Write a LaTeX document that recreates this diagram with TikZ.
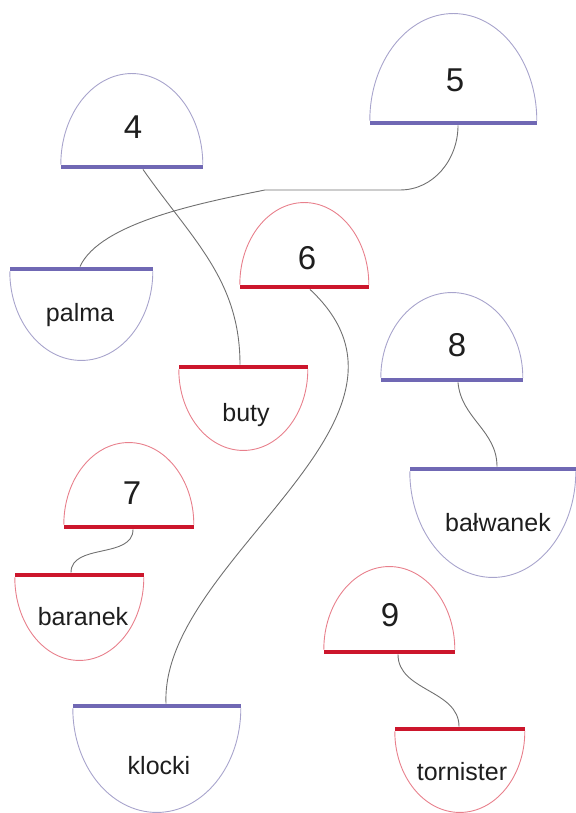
\documentclass[tikz,border=0pt]{standalone}
\usepackage{fontspec}
\setmainfont{Liberation Sans}
\definecolor{barblue}{RGB}{112,104,180}
\definecolor{edgeblue}{RGB}{168,164,204}
\definecolor{barred}{RGB}{204,22,44}
\definecolor{edgered}{RGB}{232,128,140}
\definecolor{linkgray}{RGB}{112,112,112}
\definecolor{textgray}{RGB}{30,30,30}
\tikzstyle{bluebar} = [
    rectangle,
    inner sep=0pt,
    minimum height=4.5pt,
    fill=barblue
]
\tikzstyle{redbar} = [
    rectangle,
    inner sep=0pt,
    minimum height=4.5pt,
    fill=barred
]
\tikzstyle{blueedge} = [draw=edgeblue, line width=0.9pt]
\tikzstyle{rededge} = [draw=edgered, line width=0.9pt]
\tikzstyle{number} = [text=textgray, font=\fontsize{33}{38}\selectfont]
\tikzstyle{word} = [text=textgray, font=\fontsize{25}{30}\selectfont]
\tikzstyle{link} = [draw=linkgray, line width=0.9pt]

\begin{document}
\begin{tikzpicture}[x=1pt, y=1pt]

\useasboundingbox (0,0) rectangle (575,813);

\node (top4) [bluebar, minimum width=142pt] at (132,646) {};
\node (top5) [bluebar, minimum width=167pt] at (453.5,690) {};
\node (top6) [redbar, minimum width=129pt] at (304.5,526) {};
\node (top8) [bluebar, minimum width=142pt] at (452,433) {};
\node (top7) [redbar, minimum width=130pt] at (129,286) {};
\node (top9) [redbar, minimum width=131pt] at (389.5,161) {};

\node (palma) [bluebar, minimum width=143pt] at (81.5,544) {};
\node (buty) [redbar, minimum width=129pt] at (243.5,446) {};
\node (balwanek) [bluebar, minimum width=166pt] at (493,344) {};
\node (baranek) [redbar, minimum width=129pt] at (79.5,238) {};
\node (klocki) [bluebar, minimum width=168pt] at (157,107) {};
\node (tornister) [redbar, minimum width=130pt] at (460,84) {};

\draw [blueedge] (top4.north west) arc [start angle=180, end angle=0, x radius=71pt, y radius=91pt];
\draw [blueedge] (top5.north west) arc [start angle=180, end angle=0, x radius=83.5pt, y radius=107pt];
\draw [rededge] (top6.north west) arc [start angle=180, end angle=0, x radius=64.5pt, y radius=82pt];
\draw [blueedge] (top8.north west) arc [start angle=180, end angle=0, x radius=71pt, y radius=85pt];
\draw [rededge] (top7.north west) arc [start angle=180, end angle=0, x radius=65pt, y radius=82pt];
\draw [rededge] (top9.north west) arc [start angle=180, end angle=0, x radius=65.5pt, y radius=83pt];

\draw [blueedge] (palma.south west) arc [start angle=180, end angle=360, x radius=71.5pt, y radius=89pt];
\draw [rededge] (buty.south west) arc [start angle=180, end angle=360, x radius=64.5pt, y radius=81pt];
\draw [blueedge] (balwanek.south west) arc [start angle=180, end angle=360, x radius=83pt, y radius=106pt];
\draw [rededge] (baranek.south west) arc [start angle=180, end angle=360, x radius=64.5pt, y radius=83pt];
\draw [blueedge] (klocki.south west) arc [start angle=180, end angle=360, x radius=84pt, y radius=104pt];
\draw [rededge] (tornister.south west) arc [start angle=180, end angle=360, x radius=65pt, y radius=81pt];

\node (num4) [number] at (133,686) {4};
\node (num5) [number] at (455,733) {5};
\node (num6) [number] at (307,555) {6};
\node (num8) [number] at (457,468) {8};
\node (num7) [number] at (132,320) {7};
\node (num9) [number] at (390,198) {9};

\node (txtpalma) [word] at (80,498) {palma};
\node (txtbuty) [word] at (246,398) {buty};
\node (txtbalwanek) [word] at (498,290) {bałwanek};
\node (txtbaranek) [word] at (83,196) {baranek};
\node (txtklocki) [word] at (159,47) {klocki};
\node (txttornister) [word] at (462,41) {tornister};

\coordinate (bend5) at (400,623);
\coordinate (flat5) at (265,623);

\draw [link] ([xshift=11pt]top4.south) to[out=-55, in=90] ([xshift=-3.5pt]buty.north);
\draw [link] ([xshift=4.5pt]top5.south) to[out=-90, in=0] (bend5) -- (flat5)
    .. controls (200,610) and (100,590) .. ([xshift=-1.5pt]palma.north);
\draw [link] ([xshift=5.5pt]top6.south) .. controls (450,393) and (160,253) .. ([xshift=9pt]klocki.north);
\draw [link] ([xshift=6pt]top8.south) to[out=-85, in=90] ([xshift=4pt]balwanek.north);
\draw [link] ([xshift=4pt]top7.south) to[out=-90, in=90] ([xshift=-8.5pt]baranek.north);
\draw [link] ([xshift=8.5pt]top9.south) to[out=-90, in=90] ([xshift=-1pt]tornister.north);

\end{tikzpicture}
\end{document}
